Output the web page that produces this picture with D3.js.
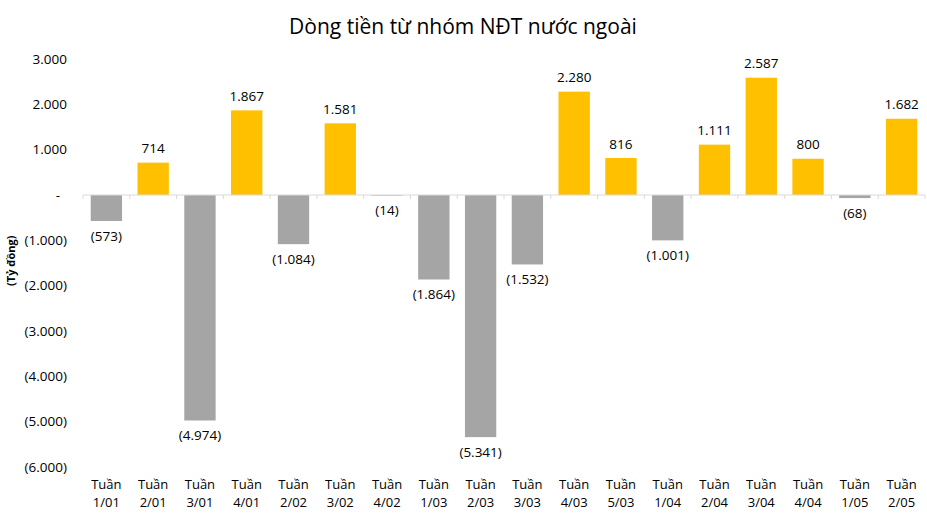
<!DOCTYPE html>
<html>
<head>
<meta charset="utf-8">
<script src="https://cdn.jsdelivr.net/npm/d3@7"></script>
<style>
  html, body { margin: 0; padding: 0; background: #fff; }
  svg { display: block; font-family: "Open Sans", "Noto Sans", sans-serif; }
</style>
</head>
<body>
<svg id="chart" width="927" height="529"></svg>
<script>
const categories = ["1/01","2/01","3/01","4/01","2/02","3/02","4/02","1/03","2/03","3/03","4/03","5/03","1/04","2/04","3/04","4/04","1/05","2/05"];
const values = [-573, 714, -4974, 1867, -1084, 1581, -14, -1864, -5341, -1532, 2280, 816, -1001, 1111, 2587, 800, -68, 1682];
const yTicks = [3000, 2000, 1000, 0, -1000, -2000, -3000, -4000, -5000, -6000];
const title = "Dòng tiền từ nhóm NĐT nước ngoài";
const yTitle = "(Tỷ đồng)";
const catPrefix = "Tuần";

const W = 927, H = 529;
const svg = d3.select("#chart");
const loc = d3.formatLocale({decimal: ",", thousands: ".", grouping: [3], currency: ["", ""]});
const f = loc.format(",d");
const fmt = v => v === 0 ? "-" : (v < 0 ? "(" + f(-v) + ")" : f(v));

const x = d3.scaleBand().domain(categories).range([83, 925]).paddingInner(0.33).paddingOuter(0.165);
const y = d3.scaleLinear().domain([-6000, 3000]).range([467, 59]);

// title
svg.append("text").attr("x", 463).attr("y", 34).attr("text-anchor", "middle")
  .attr("font-size", 21).attr("fill", "#000").text(title);

// y tick labels
svg.append("g").selectAll("text").data(yTicks).join("text")
  .attr("x", d => d === 0 ? 60 : 67)
  .attr("y", d => y(d)).attr("dy", "0.35em")
  .attr("text-anchor", "end").attr("font-size", 13.5).attr("fill", "#000")
  .text(fmt);

// y title
svg.append("text").attr("transform", `translate(15,${y(-1450)}) rotate(-90)`)
  .attr("text-anchor", "middle").attr("font-size", 11).attr("font-weight", "bold").attr("fill", "#000")
  .text(yTitle);

// bars
svg.append("g").selectAll("rect").data(values).join("rect")
  .attr("x", (d, i) => x(categories[i]))
  .attr("width", x.bandwidth())
  .attr("y", d => y(Math.max(0, d)))
  .attr("height", d => Math.abs(y(d) - y(0)))
  .attr("fill", d => d >= 0 ? "#FFC000" : "#A5A5A5");

// axis line with ticks at category boundaries
const bounds = d3.range(categories.length + 1).map(i => x.range()[0] + i * x.step());
const axisG = svg.append("g");
axisG.append("line").attr("x1", 83).attr("x2", 925).attr("y1", y(0)).attr("y2", y(0))
  .attr("stroke", "#D9D9D9").attr("stroke-width", 1.2);
axisG.selectAll("line.t").data(bounds).join("line").attr("class", "t")
  .attr("x1", d => d).attr("x2", d => d).attr("y1", y(0)).attr("y2", y(0) + 4)
  .attr("stroke", "#D9D9D9").attr("stroke-width", 1);

// data labels
svg.append("g").selectAll("text").data(values).join("text")
  .attr("x", (d, i) => x(categories[i]) + x.bandwidth() / 2)
  .attr("y", d => d >= 0 ? y(d) - 14 : y(d) + 15)
  .attr("dy", "0.35em")
  .attr("text-anchor", "middle").attr("font-size", 13.5).attr("fill", "#000")
  .text(fmt);

// category labels
const cg = svg.append("g").selectAll("text").data(categories).join("text")
  .attr("x", d => x(d) + x.bandwidth() / 2)
  .attr("text-anchor", "middle").attr("font-size", 13).attr("fill", "#000");
cg.append("tspan").attr("x", d => x(d) + x.bandwidth() / 2).attr("y", 489).text(catPrefix);
cg.append("tspan").attr("x", d => x(d) + x.bandwidth() / 2).attr("y", 507).text(d => d);
</script>
</body>
</html>
